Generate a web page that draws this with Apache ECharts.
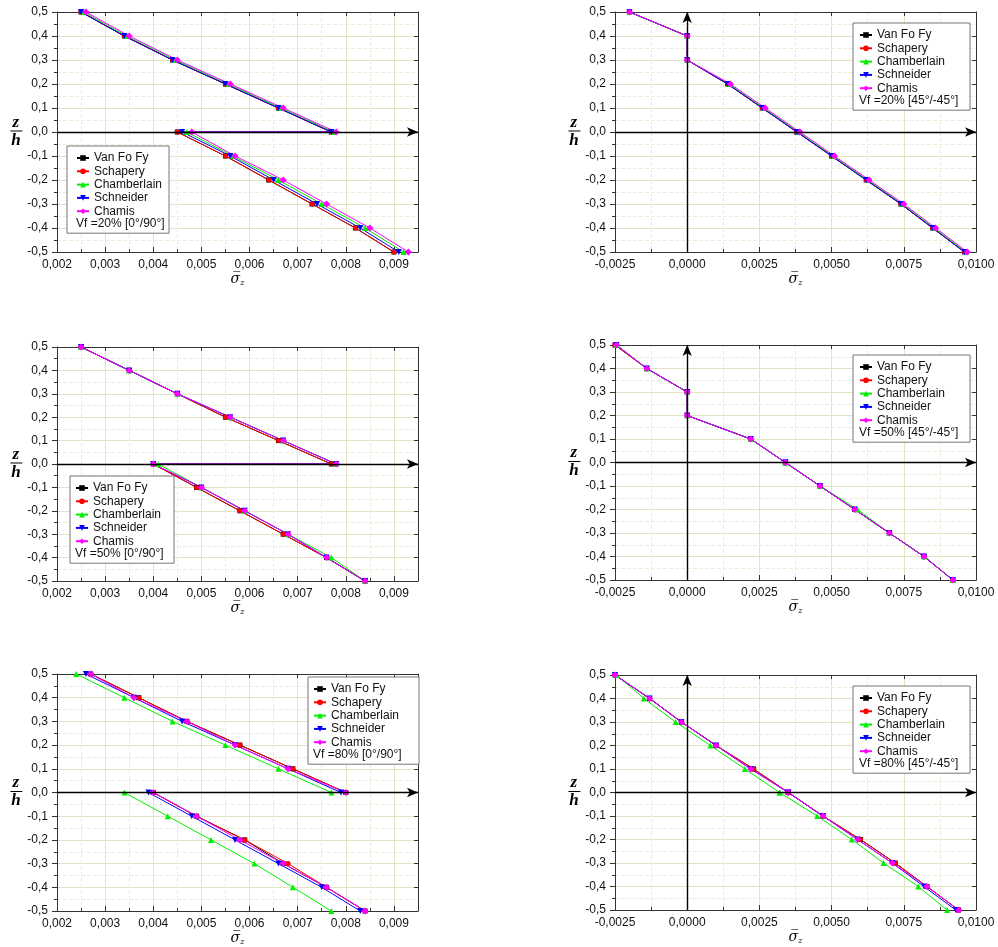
<!DOCTYPE html>
<html><head><meta charset="utf-8">
<script src="https://cdn.jsdelivr.net/npm/echarts@6/dist/echarts.min.js"></script>
<style>html,body{margin:0;padding:0;background:#fff}#c{width:998px;height:947px}</style>
</head><body><div id="c"></div>
<script>
// z/h levels (top layer 0.5 -> 0, then bottom layer 0 -> -0.5)
const zh = [0.5, 0.4, 0.3, 0.2, 0.1, 0.0, 0.0, -0.1, -0.2, -0.3, -0.4, -0.5];
const seriesNames = ['Van Fo Fy', 'Schapery', 'Chamberlain', 'Schneider', 'Chamis'];
const captions = ['Vf =20% [0°/90°]', 'Vf =20% [45°/-45°]', 'Vf =50% [0°/90°]', 'Vf =50% [45°/-45°]', 'Vf =80% [0°/90°]', 'Vf =80% [45°/-45°]'];
const yTicks = { min: -0.5, max: 0.5, interval: 0.1 };
const xTicks0_90 = { min: 0.002, max: 0.0095, interval: 0.001, dec: 3 };
const xTicks45 = { min: -0.0025, max: 0.0100, interval: 0.0025, dec: 4 };

// Panel A: Vf 20% [0/90]
const a_vanFoFy    = [0.0025, 0.0034, 0.0044, 0.0055, 0.0066, 0.0077, 0.0045, 0.0055, 0.0064, 0.0073, 0.0082, 0.0090];
const a_schapery   = [0.0025, 0.0034, 0.0044, 0.0055, 0.0066, 0.0077, 0.0045, 0.0055, 0.0064, 0.0073, 0.0082, 0.0090];
const a_chamberlain= [0.00255,0.00345,0.00445,0.00555,0.00665,0.00775,0.0047, 0.00565,0.0066, 0.0075, 0.0084, 0.0092];
const a_schneider  = [0.0025, 0.0034, 0.0044, 0.0055, 0.0066, 0.0077, 0.0046, 0.0056, 0.0065, 0.0074, 0.0083, 0.0091];
const a_chamis     = [0.0026, 0.0035, 0.0045, 0.0056, 0.0067, 0.0078, 0.0048, 0.0057, 0.0067, 0.0076, 0.0085, 0.0093];
// Panel B: Vf 20% [45/-45]
const b_vanFoFy    = [-0.0020, 0.0000, 0.0000, 0.0014, 0.0026, 0.0038, 0.0038, 0.0050, 0.0062, 0.0074, 0.0085, 0.0096];
const b_schapery   = [-0.0020, 0.0000, 0.0000, 0.0014, 0.0026, 0.0038, 0.0038, 0.0050, 0.0062, 0.0074, 0.0085, 0.0096];
const b_chamberlain= [-0.0020, 0.0000, 0.0000, 0.00145,0.00265,0.00385,0.00385,0.00505,0.00625,0.00745,0.00855,0.00965];
const b_schneider  = [-0.0020, 0.0000, 0.0000, 0.0014, 0.0026, 0.0038, 0.0038, 0.0050, 0.0062, 0.0074, 0.0085, 0.0096];
const b_chamis     = [-0.0020, 0.0000, 0.0000, 0.0015, 0.0027, 0.0039, 0.0039, 0.0051, 0.0063, 0.0075, 0.0086, 0.0097];
// Panel C: Vf 50% [0/90]
const c_vanFoFy    = [0.0025, 0.0035, 0.0045, 0.0055, 0.0066, 0.0077, 0.0040, 0.0049, 0.0058, 0.0067, 0.0076, 0.0084];
const c_schapery   = [0.0025, 0.0035, 0.0045, 0.0055, 0.0066, 0.0077, 0.0040, 0.0049, 0.0058, 0.0067, 0.0076, 0.0084];
const c_chamberlain= [0.0025, 0.0035, 0.0045, 0.0056, 0.0067, 0.0078, 0.0041, 0.0050, 0.0059, 0.0068, 0.0077, 0.0084];
const c_schneider  = [0.0025, 0.0035, 0.0045, 0.0056, 0.0067, 0.0078, 0.0040, 0.0050, 0.0059, 0.0068, 0.0076, 0.0084];
const c_chamis     = [0.0025, 0.0035, 0.0045, 0.0056, 0.0067, 0.0078, 0.0040, 0.0050, 0.0059, 0.0068, 0.0076, 0.0084];
// Panel D: Vf 50% [45/-45]
const d_vanFoFy    = [-0.0025, -0.0014, 0.0000, 0.0000, 0.0022, 0.0034, 0.0034, 0.0046, 0.0058, 0.0070, 0.0082, 0.0092];
const d_schapery   = [-0.0025, -0.0014, 0.0000, 0.0000, 0.0022, 0.0034, 0.0034, 0.0046, 0.0058, 0.0070, 0.0082, 0.0092];
const d_chamberlain= [-0.00245,-0.0014, 0.0000, 0.0000, 0.0022, 0.0034, 0.0034, 0.0046, 0.0059, 0.0070, 0.0082, 0.0092];
const d_schneider  = [-0.00245,-0.0014, 0.0000, 0.0000, 0.0022, 0.0034, 0.0034, 0.0046, 0.0058, 0.0070, 0.0082, 0.0092];
const d_chamis     = [-0.00245,-0.0014, 0.0000, 0.0000, 0.0022, 0.0034, 0.0034, 0.0046, 0.0058, 0.0070, 0.0082, 0.0092];
// Panel E: Vf 80% [0/90]
const e_vanFoFy    = [0.0027, 0.0037, 0.0047, 0.0058, 0.0069, 0.0080, 0.0040, 0.0049, 0.0059, 0.0067, 0.0076, 0.0084];
const e_schapery   = [0.0027, 0.0037, 0.0047, 0.0058, 0.0069, 0.0080, 0.0040, 0.0049, 0.0059, 0.0068, 0.0076, 0.0084];
const e_chamberlain= [0.0024, 0.0034, 0.0044, 0.0055, 0.0066, 0.0077, 0.0034, 0.0043, 0.0052, 0.0061, 0.0069, 0.0077];
const e_schneider  = [0.0026, 0.0036, 0.0046, 0.0057, 0.0068, 0.0079, 0.0039, 0.0048, 0.0057, 0.0066, 0.0075, 0.0083];
const e_chamis     = [0.0027, 0.0036, 0.0047, 0.0057, 0.0068, 0.0080, 0.0040, 0.0049, 0.0058, 0.0067, 0.0076, 0.0084];
// Panel F: Vf 80% [45/-45]
const f_vanFoFy    = [-0.0025, -0.0013, -0.0002, 0.0010, 0.0023, 0.0035, 0.0035, 0.0047, 0.0060, 0.0072, 0.0083, 0.0094];
const f_schapery   = [-0.0025, -0.0013, -0.0002, 0.0010, 0.0023, 0.0035, 0.0035, 0.0047, 0.0060, 0.0072, 0.0083, 0.0094];
const f_chamberlain= [-0.00245,-0.0015, -0.0004, 0.0008, 0.0020, 0.0032, 0.0032, 0.0045, 0.0057, 0.0068, 0.0080, 0.0090];
const f_schneider  = [-0.0025, -0.0013, -0.0002, 0.0010, 0.0022, 0.0035, 0.0035, 0.0047, 0.0059, 0.0071, 0.0082, 0.0093];
const f_chamis     = [-0.0025, -0.0013, -0.0002, 0.0010, 0.0022, 0.0035, 0.0035, 0.0047, 0.0059, 0.0071, 0.0083, 0.0094];

const panelData = [
  [a_vanFoFy, a_schapery, a_chamberlain, a_schneider, a_chamis],
  [b_vanFoFy, b_schapery, b_chamberlain, b_schneider, b_chamis],
  [c_vanFoFy, c_schapery, c_chamberlain, c_schneider, c_chamis],
  [d_vanFoFy, d_schapery, d_chamberlain, d_schneider, d_chamis],
  [e_vanFoFy, e_schapery, e_chamberlain, e_schneider, e_chamis],
  [f_vanFoFy, f_schapery, f_chamberlain, f_schneider, f_chamis]
];
const panelKind = ['0_90', '45', '0_90', '45', '0_90', '45'];

// ---- styling / layout ----
const colors = ['#000000', '#ff0000', '#00ee00', '#0000ff', '#ff00ff'];
const symbols = ['rect', 'circle', 'triangle', 'path://M0,0 L10,0 L5,9 Z', 'diamond'];
const symbolSizes = [5, 5, 6, 6, 7];
const gridLayout = [
  { left: 57, top: 12, width: 361, height: 240 },
  { left: 615, top: 12, width: 361, height: 240 },
  { left: 57, top: 347, width: 361, height: 234 },
  { left: 615, top: 345, width: 361, height: 235 },
  { left: 57, top: 674, width: 361, height: 238 },
  { left: 615, top: 675, width: 361, height: 235 }
];
const legendLayout = [
  { left: 67, top: 146, pad: [6, 7, 16, 9] },
  { left: 853, top: 23, pad: [6, 25, 16, 6] },
  { left: 70, top: 476, pad: [6, 13, 16, 5] },
  { left: 853, top: 355, pad: [6, 25, 16, 6] },
  { left: 308, top: 677, pad: [6, 20, 16, 5] },
  { left: 853, top: 686, pad: [6, 25, 16, 6] }
];

function fmt(v, d) {
  if (Math.abs(v) < 1e-12) v = 0;
  return v.toFixed(d).replace('.', ',');
}

const option = {
  animation: false,
  backgroundColor: '#fff',
  textStyle: { fontFamily: 'Liberation Sans, Arial, sans-serif' },
  grid: [], xAxis: [], yAxis: [], series: [], legend: [], title: []
};

const frameColor = '#333';
const majorGrid = { show: true, lineStyle: { color: '#e4e4c4', width: 1 } };
const minorGrid = { show: true, lineStyle: { color: '#ececd8', width: 1, type: 'dashed' } };

for (let p = 0; p < 6; p++) {
  const g = gridLayout[p];
  option.grid.push({ left: g.left, top: g.top, width: g.width, height: g.height, containLabel: false });
  const xt = panelKind[p] === '45' ? xTicks45 : xTicks0_90;
  const bx = option.xAxis.length;
  option.xAxis.push({
    type: 'value', gridIndex: p, position: 'bottom', min: xt.min, max: xt.max, interval: xt.interval,
    axisLine: { show: true, onZero: false, lineStyle: { color: frameColor, width: 1 } },
    axisTick: { show: true, inside: true, length: 5, lineStyle: { color: frameColor } },
    minorTick: { show: true, splitNumber: 2, length: 3, lineStyle: { color: frameColor } },
    axisLabel: { margin: 7, fontSize: 12, color: '#111', showMaxLabel: xt.dec === 4, showMinLabel: true,
      formatter: (v) => fmt(v, xt.dec) },
    splitLine: majorGrid, minorSplitLine: minorGrid,
    name: '{s|σ\u0305}{sub|z}', nameLocation: 'middle', nameGap: 19,
    nameTextStyle: { rich: {
      s: { fontFamily: 'DejaVu Serif', fontStyle: 'italic', fontSize: 14, color: '#000' },
      sub: { fontFamily: 'DejaVu Serif', fontStyle: 'italic', fontSize: 8, color: '#000', padding: [8, 0, 0, 0] }
    } }
  });
  option.xAxis.push({
    type: 'value', gridIndex: p, position: 'top', min: xt.min, max: xt.max, interval: xt.interval,
    axisLine: { show: true, onZero: false, lineStyle: { color: frameColor, width: 1 } },
    axisTick: { show: true, inside: true, length: 4, lineStyle: { color: frameColor } },
    axisLabel: { show: false }, splitLine: { show: false }
  });
  const by = option.yAxis.length;
  option.yAxis.push({
    type: 'value', gridIndex: p, position: 'left', min: yTicks.min, max: yTicks.max, interval: yTicks.interval,
    axisLine: { show: true, onZero: false, lineStyle: { color: frameColor, width: 1 } },
    axisTick: { show: true, inside: false, length: 5, lineStyle: { color: frameColor } },
    minorTick: { show: true, splitNumber: 2, length: 3, lineStyle: { color: frameColor } },
    axisLabel: { margin: 9, fontSize: 12, color: '#111', formatter: (v) => fmt(v, 1) },
    splitLine: majorGrid, minorSplitLine: minorGrid,
    name: '{z|z}\n{bar|}\n{h|h}', nameLocation: 'middle', nameRotate: 0, nameGap: 31,
    nameTextStyle: { align: 'right', verticalAlign: 'middle', rich: {
      z: { fontFamily: 'Liberation Serif', fontStyle: 'italic', fontWeight: 'bold', fontSize: 17, color: '#000', width: 13, align: 'center', lineHeight: 14 },
      bar: { width: 12, height: 1, backgroundColor: '#000', lineHeight: 3 },
      h: { fontFamily: 'Liberation Serif', fontStyle: 'italic', fontWeight: 'bold', fontSize: 17, color: '#000', width: 13, align: 'center', lineHeight: 16 }
    } }
  });
  option.yAxis.push({
    type: 'value', gridIndex: p, position: 'right', min: yTicks.min, max: yTicks.max, interval: yTicks.interval,
    axisLine: { show: true, onZero: false, lineStyle: { color: frameColor, width: 1 } },
    axisTick: { show: true, inside: true, length: 4, lineStyle: { color: frameColor } },
    axisLabel: { show: false }, splitLine: { show: false }
  });

  const arrows = [[{ coord: [xt.min, 0] }, { coord: [xt.max, 0] }]];
  if (panelKind[p] === '45') arrows.push([{ coord: [0, yTicks.min] }, { coord: [0, yTicks.max] }]);

  for (let s = 0; s < 5; s++) {
    const xs = panelData[p][s];
    const ser = {
      type: 'line', name: seriesNames[s], xAxisIndex: bx, yAxisIndex: by,
      data: xs.map((x, k) => [x, zh[k]]),
      symbol: symbols[s], symbolSize: symbolSizes[s], showSymbol: true,
      lineStyle: { color: colors[s], width: 1 }, itemStyle: { color: colors[s] },
      emphasis: { disabled: true }, silent: true, z: 3
    };
    if (s === 0) {
      ser.markLine = {
        silent: true, symbol: ['none', 'arrow'], symbolSize: [7, 11], animation: false,
        label: { show: false }, lineStyle: { color: '#000', width: 1.4, type: 'solid' },
        emphasis: { disabled: true }, data: arrows
      };
    }
    option.series.push(ser);
  }

  const L = legendLayout[p];
  option.legend.push({
    left: L.left, top: L.top, orient: 'vertical', padding: L.pad,
    itemWidth: 12, itemHeight: 7, itemGap: 1.3, selectedMode: false,
    backgroundColor: '#fff', borderColor: '#777', borderWidth: 1,
    textStyle: { fontSize: 12, color: '#111', lineHeight: 12, fontFamily: 'Liberation Sans, Arial, sans-serif' },
    data: seriesNames
  });
  option.title.push({
    text: captions[p], left: L.left + L.pad[3], top: L.top + 71.5, padding: 0,
    textStyle: { fontSize: 12, fontWeight: 'normal', color: '#111', fontFamily: 'Liberation Sans, Arial, sans-serif' }
  });
}

const chart = echarts.init(document.getElementById('c'), null, { renderer: 'canvas' });
chart.setOption(option);
</script></body></html>
